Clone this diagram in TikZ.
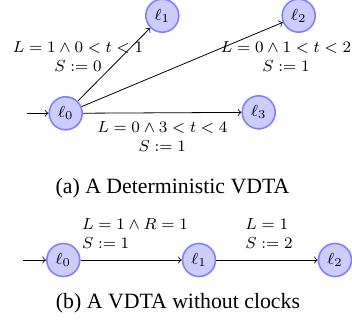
\documentclass[tikz,border=0pt]{standalone}
\usepackage{amsmath}
\usepackage{amssymb}
\usepackage[no-math]{fontspec}
\newfontfamily\capfont{Liberation Serif}
\usetikzlibrary{arrows}

\tikzset{
  loc/.style={circle, draw=blue!50, fill=blue!20, thick, minimum size=16.5pt, inner sep=0pt, font=\fontsize{8.5}{10}\selectfont},
  guard/.style={align=center, font=\fontsize{7.8}{9.5}\selectfont, inner sep=0pt},
  caption/.style={font=\capfont\fontsize{10.9}{13}\selectfont, inner sep=0pt}
}

\begin{document}
\begin{tikzpicture}[x=0.5pt, y=-0.5pt, >=to]
  \useasboundingbox (0,0) rectangle (352,321);

  % (a) Deterministic VDTA
  \begin{scope}
    \node[loc] (l0) at (65.7,113.3) {$\ell_0$};
    \node[loc] (l1) at (162.3,15.7) {$\ell_1$};
    \node[loc] (l2) at (298.7,15.7) {$\ell_2$};
    \node[loc] (l3) at (258.7,112.3) {$\ell_3$};
    \coordinate (a0) at (26.7,113.3);
    \draw[->] (a0) -- (l0);
    \draw[->] (l0) -- (l1);
    \draw[->] (l0) -- (l2);
    \draw[->] (l0) -- (l3);
    \node[guard] (g1) at (78,56.5) {$L = 1 \wedge 0 < t < 1$\\$S := 0$};
    \node[guard] (g2) at (286,57) {$L = 0 \wedge 1 < t < 2$\\$S := 1$};
    \node[guard] (g3) at (162.3,136.7) {$L = 0 \wedge 3 < t < 4$\\$S := 1$};
    \node[caption] (capa) at (172.5,188.3) {(a) A Deterministic VDTA};
  \end{scope}

  % (b) VDTA without clocks
  \begin{scope}
    \node[loc] (m0) at (63.3,260) {$\ell_0$};
    \node[loc] (m1) at (199,260) {$\ell_1$};
    \node[loc] (m2) at (335,260) {$\ell_2$};
    \coordinate (b0) at (23.3,260);
    \draw[->] (b0) -- (m0);
    \draw[->] (m0) -- (m1);
    \draw[->] (m1) -- (m2);
    \node[guard, anchor=west, align=left] (h1) at (81.7,234) {$L = 1 \wedge R = 1$\\$S := 1$};
    \node[guard, anchor=west, align=left] (h2) at (245,234) {$L = 1$\\$S := 2$};
    \node[caption] (capb) at (178,303.3) {(b) A VDTA without clocks};
  \end{scope}
\end{tikzpicture}
\end{document}
